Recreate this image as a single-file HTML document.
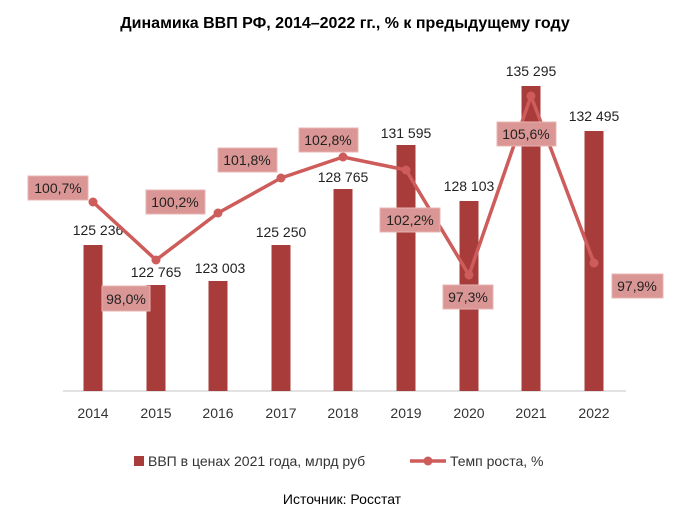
<!DOCTYPE html>
<html><head><meta charset="utf-8"><style>
body{margin:0;background:#fff;}
svg text{font-family:"Liberation Sans","DejaVu Sans",sans-serif;}
</style></head><body>
<svg width="690" height="518" xmlns="http://www.w3.org/2000/svg">
<rect width="690" height="518" fill="#fff"/>
<text x="345" y="28" text-anchor="middle" font-size="16" font-weight="bold" fill="#000">Динамика ВВП РФ, 2014–2022 гг., % к предыдущему году</text>
<line x1="63" y1="391" x2="626" y2="391" stroke="#d9d9d9" stroke-width="1.5"/>
<g fill="#a83c3a">
<rect x="83.5" y="245" width="19" height="146"/>
<rect x="146.5" y="285" width="19" height="106"/>
<rect x="208.5" y="281" width="19" height="110"/>
<rect x="271.5" y="245" width="19" height="146"/>
<rect x="333.5" y="189" width="19" height="202"/>
<rect x="396.5" y="145" width="19" height="246"/>
<rect x="459.5" y="201" width="19" height="190"/>
<rect x="521.5" y="86" width="19" height="305"/>
<rect x="584.5" y="131" width="19" height="260"/>
</g>
<g font-size="14" fill="#222" text-anchor="middle">
<text x="98" y="235">125 236</text>
<text x="156" y="277">122 765</text>
<text x="220" y="273">123 003</text>
<text x="281" y="237">125 250</text>
<text x="343" y="182">128 765</text>
<text x="406" y="138">131 595</text>
<text x="469" y="191">128 103</text>
<text x="531" y="76">135 295</text>
<text x="594" y="121">132 495</text>
</g>
<polyline points="93,202 156,260 218,213 281,178 343,157 406,170 469,275 531,96 594,263" fill="none" stroke="#cd5c5a" stroke-width="3.5" stroke-linejoin="round"/>
<g fill="#cd5c5a">
<circle cx="93" cy="202" r="4.5"/><circle cx="156" cy="260" r="4.5"/><circle cx="218" cy="213" r="4.5"/><circle cx="281" cy="178" r="4.5"/><circle cx="343" cy="157" r="4.5"/><circle cx="406" cy="170" r="4.5"/><circle cx="469" cy="275" r="4.5"/><circle cx="531" cy="96" r="4.5"/><circle cx="594" cy="263" r="4.5"/>
</g>
<g fill="#d99694" stroke="#e8b4b2" stroke-width="1">
<rect x="28" y="176" width="60" height="24"/>
<rect x="102" y="286" width="48" height="25"/>
<rect x="146" y="190" width="59" height="24"/>
<rect x="218" y="148" width="59" height="24"/>
<rect x="299" y="128" width="59" height="24"/>
<rect x="380" y="208" width="60" height="24"/>
<rect x="443" y="285" width="50" height="24"/>
<rect x="497" y="122" width="59" height="24"/>
<rect x="612" y="274" width="51" height="24"/>
</g>
<g font-size="14" fill="#222" text-anchor="middle">
<text x="58" y="193">100,7%</text>
<text x="126" y="304">98,0%</text>
<text x="175" y="207">100,2%</text>
<text x="247" y="165">101,8%</text>
<text x="328" y="145">102,8%</text>
<text x="410" y="225">102,2%</text>
<text x="468" y="302">97,3%</text>
<text x="526" y="139">105,6%</text>
<text x="637" y="291">97,9%</text>
</g>
<g font-size="14" fill="#333" text-anchor="middle">
<text x="93" y="418">2014</text><text x="156" y="418">2015</text><text x="218" y="418">2016</text><text x="281" y="418">2017</text><text x="343" y="418">2018</text><text x="406" y="418">2019</text><text x="469" y="418">2020</text><text x="531" y="418">2021</text><text x="594" y="418">2022</text>
</g>
<rect x="134" y="456" width="10" height="10" fill="#a83c3a"/>
<text x="148" y="466" font-size="14" fill="#333">ВВП в ценах 2021 года, млрд руб</text>
<line x1="410" y1="461" x2="446" y2="461" stroke="#cd5c5a" stroke-width="3.5"/>
<circle cx="428" cy="461" r="4.5" fill="#cd5c5a"/>
<text x="450" y="466" font-size="14" fill="#333">Темп роста, %</text>
<text x="342" y="504" font-size="14" fill="#000" text-anchor="middle">Источник: Росстат</text>
</svg>
</body></html>
